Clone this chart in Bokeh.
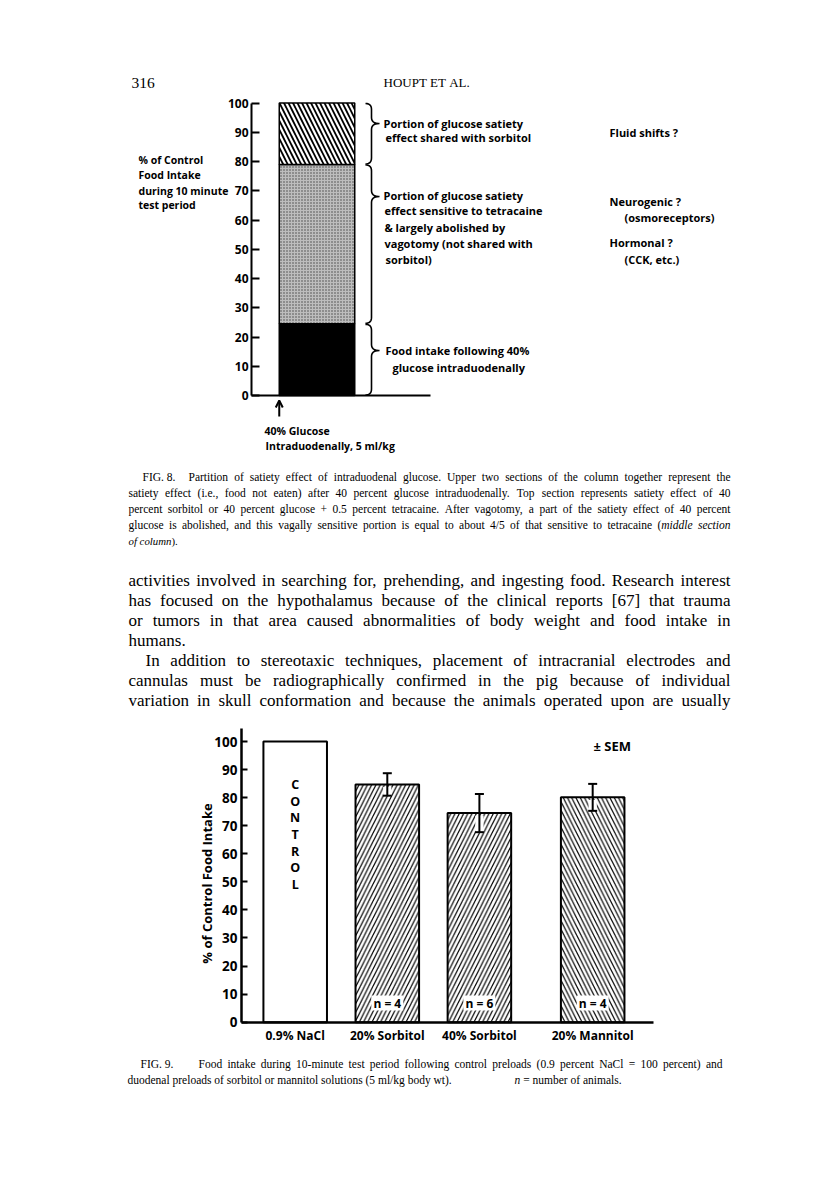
import re
import numpy as np
from bokeh.plotting import figure
from bokeh.models import (Range1d, LinearAxis, FixedTicker, ColumnDataSource,
                          Whisker, TeeHead, Arrow, OpenHead)
from bokeh.core.properties import value
from bokeh.embed import file_html
from bokeh.resources import INLINE

# ------------------------------------------------------------------ data
# Fig. 8 : partition of the satiety effect of 40% intraduodenal glucose
fig8_sections = ["Food intake following 40% glucose",
                 "Sensitive to tetracaine / vagotomy",
                 "Shared with sorbitol"]
fig8_tops = [24.5, 79.0, 100.0]          # cumulative % of control food intake
fig8_ticks = [0, 10, 20, 30, 40, 50, 60, 70, 80, 90, 100]

# Fig. 9 : food intake after duodenal preloads
fig9_groups = ["0.9% NaCl", "20% Sorbitol", "40% Sorbitol", "20% Mannitol"]
fig9_means = [100.0, 84.7, 74.5, 80.1]
fig9_sem = [0.0, 4.0, 6.8, 4.8]
fig9_n = [0, 4, 6, 4]
fig9_ticks = [0, 10, 20, 30, 40, 50, 60, 70, 80, 90, 100]

# ------------------------------------------------------------------ layout
W, H, M = 800, 1170, 0
SANS_NAME = "Open Sans"
SANS = value(SANS_NAME)
SERIF = value("Liberation Serif")

F8_ZERO_Y, F8_PPU = 395.0, 2.925          # page px of value 0, px per %
F8_BAR_CX, F8_BAR_PX = 316.5, 75.5        # bar centre / width (px)
F8_AXIS_X, F8_BASE_END_X = 251.0, 430.0

F9_ZERO_Y, F9_PPU = 1021.7, 2.807
F9_SLOT0_X, F9_SLOT_PX = 294.7, 92.1
F9_SLOTS = [0.0, 1.0, 2.0, 3.23]
F9_BAR_W = 0.69
F9_AXIS_X, F9_BASE_END_X = 241.0, 653.0


def xrange_px(px0, ppu):
    return Range1d((M - px0) / ppu, (M + W - px0) / ppu)


def yrange_px(px0, ppu):
    return Range1d((px0 - (M + H)) / ppu, (px0 - M) / ppu)


p = figure(width=W, height=H, x_range=Range1d(M, M + W), y_range=Range1d(M + H, M),
           x_axis_type=None, y_axis_type=None, toolbar_location=None,
           output_backend="svg", min_border=0, outline_line_color=None)
p.background_fill_color = "white"
p.border_fill_color = "white"
p.extra_x_ranges = {"f8x": xrange_px(F8_BAR_CX, F8_BAR_PX),
                    "f9x": xrange_px(F9_SLOT0_X, F9_SLOT_PX)}
p.extra_y_ranges = {"f8y": yrange_px(F8_ZERO_Y, F8_PPU),
                    "f9y": yrange_px(F9_ZERO_Y, F9_PPU)}

R8 = dict(x_range_name="f8x", y_range_name="f8y")
R9 = dict(x_range_name="f9x", y_range_name="f9y")


def sans(xs, ys, texts, size, align="left", **kw):
    p.text(x=xs, y=ys, text=texts, text_font=SANS, text_font_style="bold",
           text_font_size=size, text_align=align, text_baseline="middle",
           text_color="black", **kw)


# ------------------------------------------------------------------ Fig. 8
bottoms = [0.0] + fig8_tops[:-1]
p.vbar(x=0, bottom=bottoms[0], top=fig8_tops[0], width=1, fill_color="black",
       line_color="black", line_width=1.5, **R8)
p.vbar(x=0, bottom=bottoms[1], top=fig8_tops[1], width=1, fill_color="#bdbdbd",
       hatch_pattern="dot", hatch_scale=3, hatch_weight=0.6, hatch_color="#444444",
       line_color="black", line_width=1.5, **R8)
p.vbar(x=0, bottom=bottoms[2], top=fig8_tops[2], width=1, fill_color="white",
       hatch_pattern="left_diagonal_line", hatch_scale=9, hatch_weight=1.8,
       hatch_color="black", line_color="black", line_width=1.5, **R8)

ax8 = LinearAxis(fixed_location=(F8_AXIS_X - F8_BAR_CX) / F8_BAR_PX, bounds=(0, 100),
                 ticker=FixedTicker(ticks=fig8_ticks), major_tick_in=8, major_tick_out=0,
                 minor_tick_in=0, minor_tick_out=0, axis_line_width=2,
                 major_tick_line_width=2, major_label_standoff=3,
                 major_label_text_font=SANS_NAME, major_label_text_font_style="bold",
                 major_label_text_font_size="12px", major_label_text_color="black", **R8)
p.add_layout(ax8, "left")
bx8 = LinearAxis(fixed_location=0,
                 bounds=((F8_AXIS_X - F8_BAR_CX) / F8_BAR_PX, (F8_BASE_END_X - F8_BAR_CX) / F8_BAR_PX),
                 ticker=FixedTicker(ticks=[]), major_tick_in=0, major_tick_out=0,
                 minor_tick_in=0, minor_tick_out=0, axis_line_width=2,
                 major_label_text_font_size="0px", **R8)
p.add_layout(bx8, "below")

p.add_layout(Arrow(x_start=-0.5, x_end=-0.5, y_start=-7.2, y_end=-1.7,
                   end=OpenHead(size=7, line_width=2), line_width=2, **R8))


def y8(v):
    return F8_ZERO_Y - F8_PPU * v


def brace(xs, ytop, ybot, ytip, curl=6.0, tip=8.0):
    def quad(p0, c, p1, n=8):
        t = np.linspace(0, 1, n)
        return ((1 - t) ** 2 * p0[0] + 2 * (1 - t) * t * c[0] + t ** 2 * p1[0],
                (1 - t) ** 2 * p0[1] + 2 * (1 - t) * t * c[1] + t ** 2 * p1[1])
    parts = [quad((xs - curl, ytop), (xs, ytop), (xs, ytop + curl)),
             quad((xs, ytip - curl), (xs, ytip), (xs + tip, ytip)),
             quad((xs + tip, ytip), (xs, ytip), (xs, ytip + curl)),
             quad((xs, ybot - curl), (xs, ybot), (xs - curl, ybot))]
    bx = np.concatenate([q[0] for q in parts])
    by = np.concatenate([q[1] for q in parts])
    return list(bx), list(by)


tips = [350.0, 196.0, 123.0]
b_xs, b_ys = [], []
for bot, top, ty in zip(bottoms, fig8_tops, tips):
    bxx, byy = brace(371.0, y8(top) + 0.5, y8(bot) - 0.5, ty)
    b_xs.append(bxx)
    b_ys.append(byy)
p.multi_line(xs=b_xs, ys=b_ys, line_color="black", line_width=1.6)

sans([138] * 4, [159, 174, 190, 204],
     ["% of Control", "Food Intake", "during 10 minute", "test period"], "10.5px")
sans([383, 385, 383, 384, 384, 384, 385, 385, 392],
     [123, 137, 195, 210, 227, 243, 259, 350, 367],
     ["Portion of glucose satiety", "effect shared with sorbitol",
      "Portion of glucose satiety", "effect sensitive to tetracaine",
      "& largely abolished by", "vagotomy (not shared with", "sorbitol)",
      "Food intake following 40%", "glucose intraduodenally"], "11px")
sans([609, 609, 624, 609, 624], [132, 201, 217, 242, 259],
     ["Fluid shifts ?", "Neurogenic ?", "(osmoreceptors)", "Hormonal ?", "(CCK, etc.)"],
     "11px")
sans([264, 265], [430, 445], ["40% Glucose", "Intraduodenally, 5 ml/kg"], "10.5px")

# ------------------------------------------------------------------ Fig. 9
hatch_style = {"0.9% NaCl": " ", "20% Sorbitol": "right_diagonal_line",
               "40% Sorbitol": "right_diagonal_line", "20% Mannitol": "left_diagonal_line"}
src9 = ColumnDataSource(dict(
    x=F9_SLOTS, top=fig9_means, hatch=[hatch_style[g] for g in fig9_groups]))
p.vbar(x="x", top="top", bottom=0, width=F9_BAR_W, source=src9, fill_color="white",
       hatch_pattern="hatch", hatch_scale=8.5, hatch_weight=1.2, hatch_color="black",
       line_color="black", line_width=2, **R9)

idx = [i for i, s in enumerate(fig9_sem) if s > 0]
err = ColumnDataSource(dict(
    x=[F9_SLOTS[i] for i in idx],
    upper=[fig9_means[i] + fig9_sem[i] for i in idx],
    lower=[fig9_means[i] - fig9_sem[i] for i in idx],
    notch_top=[fig9_means[i] - 0.9 for i in idx]))
p.vbar(x="x", bottom="lower", top="notch_top", width=0.09, source=err,
       fill_color="white", line_color=None, **R9)
p.add_layout(Whisker(source=err, base="x", upper="upper", lower="lower",
                     level="overlay", line_width=2, line_color="black",
                     upper_head=TeeHead(size=9, line_width=2, line_color="black"),
                     lower_head=TeeHead(size=9, line_width=2, line_color="black"), **R9))

nidx = [i for i, n in enumerate(fig9_n) if n > 0]
nsrc = ColumnDataSource(dict(x=[F9_SLOTS[i] for i in nidx], y=[6.8] * len(nidx),
                             t=["n = %d" % fig9_n[i] for i in nidx]))
p.rect(x="x", y="y", width=32, height=15, width_units="screen", height_units="screen",
       source=nsrc, fill_color="white", line_color=None, **R9)
p.text(x="x", y="y", text="t", source=nsrc, text_font=SANS, text_font_style="bold",
       text_font_size="12px", text_align="center", text_baseline="middle", **R9)

p.text(x=[F9_SLOTS[0]], y=[66.9], text=["C\nO\nN\nT\nR\nO\nL"], text_font=SANS,
       text_font_style="bold", text_font_size="12.5px", text_align="center",
       text_baseline="middle", text_line_height=0.98, **R9)

ax9 = LinearAxis(fixed_location=(F9_AXIS_X - F9_SLOT0_X) / F9_SLOT_PX, bounds=(0, 104.6),
                 ticker=FixedTicker(ticks=fig9_ticks), major_tick_in=6, major_tick_out=0,
                 minor_tick_in=0, minor_tick_out=0, axis_line_width=2.5,
                 major_tick_line_width=2, major_label_standoff=4,
                 major_label_text_font=SANS_NAME, major_label_text_font_style="bold",
                 major_label_text_font_size="13.5px", major_label_text_color="black", **R9)
p.add_layout(ax9, "left")
bx9 = LinearAxis(fixed_location=0,
                 bounds=((F9_AXIS_X - F9_SLOT0_X) / F9_SLOT_PX, (F9_BASE_END_X - F9_SLOT0_X) / F9_SLOT_PX),
                 ticker=FixedTicker(ticks=F9_SLOTS),
                 major_label_overrides={s: g for s, g in zip(F9_SLOTS, fig9_groups)},
                 major_tick_in=0, major_tick_out=0, minor_tick_in=0, minor_tick_out=0,
                 axis_line_width=2.5, major_label_standoff=5,
                 major_label_text_font=SANS_NAME, major_label_text_font_style="bold",
                 major_label_text_font_size="12px", major_label_text_color="black", **R9)
p.add_layout(bx9, "below")

sans([593], [745], ["\u00b1 SEM"], "13px")
p.text(x=[206], y=[883], text=["% of Control Food Intake"], angle=np.pi / 2,
       text_font=SANS, text_font_style="bold", text_font_size="13px",
       text_align="center", text_baseline="middle")

# ------------------------------------------------------------------ serif page text
TIMES = {' ': 250, '!': 333, '"': 408, '#': 500, '$': 500, '%': 833, '&': 778, "'": 333,
         '(': 333, ')': 333, '*': 500, '+': 564, ',': 250, '-': 333, '.': 250, '/': 278,
         ':': 278, ';': 278, '<': 564, '=': 564, '>': 564, '?': 444, '@': 921,
         'A': 722, 'B': 667, 'C': 667, 'D': 722, 'E': 611, 'F': 556, 'G': 722, 'H': 722,
         'I': 333, 'J': 389, 'K': 722, 'L': 611, 'M': 889, 'N': 722, 'O': 722, 'P': 556,
         'Q': 722, 'R': 667, 'S': 556, 'T': 611, 'U': 722, 'V': 722, 'W': 944, 'X': 722,
         'Y': 722, 'Z': 611, '[': 333, ']': 333, 'a': 444, 'b': 500, 'c': 444, 'd': 500,
         'e': 444, 'f': 333, 'g': 500, 'h': 500, 'i': 278, 'j': 278, 'k': 500, 'l': 278,
         'm': 778, 'n': 500, 'o': 500, 'p': 500, 'q': 500, 'r': 333, 's': 389, 't': 278,
         'u': 500, 'v': 500, 'w': 722, 'x': 500, 'y': 500, 'z': 444}
TIMES.update({str(d): 500 for d in range(10)})
ITAL = dict(TIMES, a=500, f=278, k=444, m=722, r=389, v=444, w=667, x=444, y=444, z=389)


def segs(word):
    out = []
    for part in re.split(r"(<[^>]*>)", word):
        if not part:
            continue
        if part.startswith("<"):
            out.append((part[1:-1], True))
        else:
            out.append((part, False))
    return out


def width(word):
    return sum(sum((ITAL if it else TIMES).get(c, 500) for c in s) for s, it in segs(word)) / 1000.0


roman = dict(x=[], y=[], t=[], s=[])
italic = dict(x=[], y=[], t=[], s=[])


def put_line(text, x0, x1, y, size, justify):
    words = text.split(" ")
    ws = [width(w) * size for w in words]
    if justify and len(words) > 1:
        gap = (x1 - x0 - sum(ws)) / (len(words) - 1)
    else:
        gap = 0.25 * size
    x = x0
    for w, wd in zip(words, ws):
        xx = x
        for s, it in segs(w):
            d = italic if it else roman
            d["x"].append(xx)
            d["y"].append(y)
            d["t"].append(s)
            d["s"].append("%.2fpx" % size)
            xx += sum((ITAL if it else TIMES).get(c, 500) for c in s) / 1000.0 * size
        x += wd + gap


def line_fit(text, x0, x1, space_em):
    words = text.split(" ")
    em = sum(width(w) for w in words) + space_em * (len(words) - 1)
    return (x1 - x0) / em


def block(lines, y0, dy, base, per_line=False, lo=9.5, hi=11.5):
    if not per_line:
        size = min([base] + [line_fit(t, a, b, 0.2) for t, a, b, j in lines if j])
    sizes = []
    for i, (text, x0, x1, just) in enumerate(lines):
        s = size if not per_line else (
            max(lo, min(hi, line_fit(text, x0, x1, 0.28))) if just else base)
        put_line(text, x0, x1, y0 + i * dy, s, just)
        sizes.append(s)
    return sizes


# page header
put_line("316", 131, 131, 82, 15.5, False)
put_line("HOUPT ET AL.", 383, 383, 82, 13, False)

cap8 = [("Partition of satiety effect of intraduodenal glucose. Upper two sections of the column together represent the", 188, 730, True),
        ("satiety effect (i.e., food not eaten) after 40 percent glucose intraduodenally. Top section represents satiety effect of 40", 128, 730, True),
        ("percent sorbitol or 40 percent glucose + 0.5 percent tetracaine. After vagotomy, a part of the satiety effect of 40 percent", 128, 730, True),
        ("glucose is abolished, and this vagally sensitive portion is equal to about 4/5 of that sensitive to tetracaine (<middle> <section>", 128, 730, True),
        ("<of> <column>).", 128, 730, False)]
s8 = block(cap8, 476, 16, 10.8, per_line=True)
put_line("FIG. 8.", 142, 142, 476, s8[0], False)

body = [("activities involved in searching for, prehending, and ingesting food. Research interest", 128, 730, True),
        ("has focused on the hypothalamus because of the clinical reports [67] that trauma", 128, 730, True),
        ("or tumors in that area caused abnormalities of body weight and food intake in", 128, 730, True),
        ("humans.", 128, 730, False),
        ("In addition to stereotaxic techniques, placement of intracranial electrodes and", 145, 730, True),
        ("cannulas must be radiographically confirmed in the pig because of individual", 128, 730, True),
        ("variation in skull conformation and because the animals operated upon are usually", 128, 730, True)]
block(body, 580, 20, 17)

cap9 = [("Food intake during 10-minute test period following control preloads (0.9 percent NaCl = 100 percent) and", 198, 722, True)]
s9 = block(cap9, 1063, 16, 10.8, per_line=True)
put_line("FIG. 9.", 140, 140, 1063, s9[0], False)
put_line("duodenal preloads of sorbitol or mannitol solutions (5 ml/kg body wt).", 127, 127, 1079, s9[0], False)
put_line("<n> = number of animals.", 514, 514, 1079, s9[0], False)

p.text(x="x", y="y", text="t", text_font_size="s", source=ColumnDataSource(roman),
       text_font=SERIF, text_align="left", text_baseline="middle", text_color="black")
p.text(x="x", y="y", text="t", text_font_size="s", source=ColumnDataSource(italic),
       text_font=SERIF, text_font_style="italic", text_align="left",
       text_baseline="middle", text_color="black")

open("out.html", "w").write(file_html(p, INLINE))
